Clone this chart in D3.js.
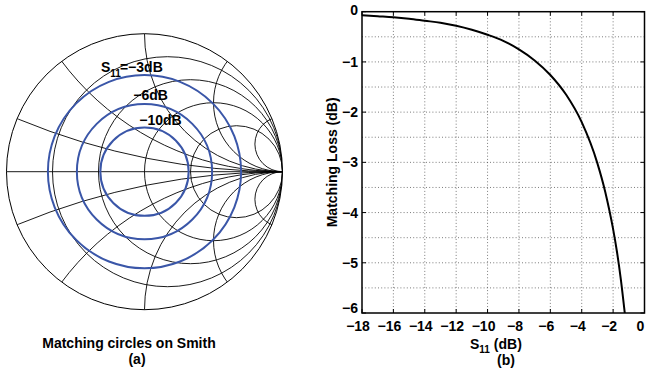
<!DOCTYPE html>
<html><head><meta charset="utf-8">
<script src="https://cdn.jsdelivr.net/npm/d3@7/dist/d3.min.js"></script>
<style>
body{margin:0;background:#fff}
svg{display:block}
text{font-family:"Liberation Sans",Arial,Helvetica,sans-serif;font-weight:bold;fill:#000}
</style>
</head><body>
<svg id="c" width="646" height="372"></svg>
<script>
// ---- Smith chart (a) ----
const rValues = [0.2, 0.5, 1, 2];
const xValues = [0.2, 0.5, 1, 2, 5, -0.2, -0.5, -1, -2, -5];
const circleDb = [-3, -6, -10];
const circleMag = [0.70, 0.49, 0.32];
const circleLabels = ["=\u22123dB", "\u22126dB", "\u221210dB"];

// ---- Matching loss curve (b) ----
const s11dB  = [-18, -17, -16, -15, -14, -13, -12, -11, -10, -9, -8, -7, -6, -5, -4, -3, -2.5, -2.25, -2, -1.75, -1.5, -1.25];
const lossDb = [-0.07, -0.09, -0.11, -0.14, -0.18, -0.22, -0.28, -0.36, -0.46, -0.58, -0.75, -0.97, -1.26, -1.65, -2.2, -3.02, -3.59, -3.94, -4.33, -4.79, -5.35, -6.02];
const xTicks = [-18, -16, -14, -12, -10, -8, -6, -4, -2, 0];
const yTicks = [0, -1, -2, -3, -4, -5, -6];
const yGrid  = [-0.5, -1, -1.5, -2, -2.5, -3, -3.5, -4, -4.5, -5, -5.5];

const svg = d3.select("#c");
const MINUS = "\u2212";
const fmt = v => (v < 0 ? MINUS + Math.abs(v) : String(v));

// ===== Smith chart =====
const cx = 144.5, cy = 171.7, R = 138;
const gx = d3.scaleLinear().domain([-1, 1]).range([cx - R, cx + R]);
const gy = d3.scaleLinear().domain([-1, 1]).range([cy + R, cy - R]);
const k = gx(1) - gx(0);

svg.append("clipPath").attr("id", "unit")
  .append("circle").attr("cx", gx(0)).attr("cy", gy(0)).attr("r", k);

const smith = svg.append("g");
const grid = smith.append("g").attr("clip-path", "url(#unit)")
  .attr("fill", "none").attr("stroke", "#000").attr("stroke-width", 0.9);

grid.selectAll("circle.r").data(rValues).join("circle").attr("class", "r")
  .attr("cx", r => gx(r / (1 + r))).attr("cy", gy(0)).attr("r", r => k / (1 + r));
grid.selectAll("circle.x").data(xValues).join("circle").attr("class", "x")
  .attr("cx", gx(1)).attr("cy", x => gy(1 / x)).attr("r", x => k / Math.abs(x));

smith.append("line").attr("x1", gx(-1)).attr("x2", gx(1)).attr("y1", gy(0)).attr("y2", gy(0))
  .attr("stroke", "#000").attr("stroke-width", 0.9);
smith.append("circle").attr("cx", gx(0)).attr("cy", gy(0)).attr("r", k)
  .attr("fill", "none").attr("stroke", "#000").attr("stroke-width", 1);

smith.selectAll("circle.m").data(circleMag).join("circle").attr("class", "m")
  .attr("cx", gx(0)).attr("cy", gy(0)).attr("r", m => k * m)
  .attr("fill", "none").attr("stroke", "#3a56a8").attr("stroke-width", 2);

// labels
const lab0 = smith.append("text").attr("x", gx(-0.315)).attr("y", gy(0.725)).attr("font-size", 14);
lab0.append("tspan").text("S");
lab0.append("tspan").attr("font-size", 10).attr("dy", 5).text("11");
lab0.append("tspan").attr("dy", -5).attr("dx", -1).text(circleLabels[0]);
smith.append("text").attr("x", gx(-0.081)).attr("y", gy(0.52)).attr("font-size", 14).text(circleLabels[1]);
smith.append("text").attr("x", gx(-0.038)).attr("y", gy(0.338)).attr("font-size", 14).text(circleLabels[2]);

svg.append("text").attr("x", 129).attr("y", 348).attr("text-anchor", "middle").attr("font-size", 14)
  .text("Matching circles on Smith");
svg.append("text").attr("x", 137).attr("y", 364).attr("text-anchor", "middle").attr("font-size", 14)
  .text("(a)");

// ===== Matching loss plot =====
const xs = d3.scaleLinear().domain([-18, 0]).range([362, 644.5]);
const ys = d3.scaleLinear().domain([-6, 0]).range([313, 11.7]);
const plot = svg.append("g");

plot.append("clipPath").attr("id", "pa").append("rect")
  .attr("x", xs(-18)).attr("y", ys(0)).attr("width", xs(0) - xs(-18)).attr("height", ys(-6) - ys(0));

const gridG = plot.append("g").attr("stroke", "#444").attr("stroke-width", 0.7)
  .attr("stroke-dasharray", "1,2.2");
gridG.selectAll("line.v").data(xTicks.slice(1, -1)).join("line").attr("class", "v")
  .attr("x1", d => xs(d)).attr("x2", d => xs(d)).attr("y1", ys(0)).attr("y2", ys(-6));
gridG.selectAll("line.h").data(yGrid).join("line").attr("class", "h")
  .attr("y1", d => ys(d)).attr("y2", d => ys(d)).attr("x1", xs(-18)).attr("x2", xs(0));

// ticks (inward, on all sides)
const tk = plot.append("g").attr("stroke", "#000").attr("stroke-width", 1);
const tl = 4;
tk.selectAll("line.bt").data(xTicks).join("line").attr("class", "bt")
  .attr("x1", d => xs(d)).attr("x2", d => xs(d)).attr("y1", ys(-6)).attr("y2", ys(-6) - tl);
tk.selectAll("line.tt").data(xTicks).join("line").attr("class", "tt")
  .attr("x1", d => xs(d)).attr("x2", d => xs(d)).attr("y1", ys(0)).attr("y2", ys(0) + tl);
tk.selectAll("line.lt").data(yTicks).join("line").attr("class", "lt")
  .attr("y1", d => ys(d)).attr("y2", d => ys(d)).attr("x1", xs(-18)).attr("x2", xs(-18) + tl);
tk.selectAll("line.rt").data(yTicks).join("line").attr("class", "rt")
  .attr("y1", d => ys(d)).attr("y2", d => ys(d)).attr("x1", xs(0)).attr("x2", xs(0) - tl);

plot.append("rect").attr("x", xs(-18)).attr("y", ys(0))
  .attr("width", xs(0) - xs(-18)).attr("height", ys(-6) - ys(0))
  .attr("fill", "none").attr("stroke", "#000").attr("stroke-width", 1.5);

// tick labels
plot.selectAll("text.xl").data(xTicks).join("text").attr("class", "xl")
  .attr("x", d => xs(d) - 4).attr("y", 331).attr("text-anchor", "middle").attr("font-size", 14)
  .text(fmt);
plot.selectAll("text.yl").data(yTicks).join("text").attr("class", "yl")
  .attr("x", xs(-18) - 4)
  .attr("y", d => ys(d) + (d === 0 ? 3.5 : d === -6 ? 0 : 5))
  .attr("text-anchor", "end").attr("font-size", 14)
  .text(fmt);

// curve
const line = d3.line().x((d, i) => xs(s11dB[i])).y(d => ys(d)).curve(d3.curveMonotoneX);
plot.append("path").datum(lossDb).attr("clip-path", "url(#pa)")
  .attr("d", line).attr("fill", "none").attr("stroke", "#000").attr("stroke-width", 2);

// axis titles
const xt = plot.append("text").attr("x", 470).attr("y", 349).attr("font-size", 14);
xt.append("tspan").text("S");
xt.append("tspan").attr("font-size", 10).attr("dy", 4).text("11");
xt.append("tspan").attr("dy", -4).text(" (dB)");
plot.append("text").attr("x", 506).attr("y", 364.5).attr("text-anchor", "middle").attr("font-size", 14).text("(b)");
plot.append("text").attr("transform", `translate(337,${(ys(0) + ys(-6)) / 2}) rotate(-90)`)
  .attr("text-anchor", "middle").attr("font-size", 14).text("Matching Loss (dB)");
</script>
</body></html>
